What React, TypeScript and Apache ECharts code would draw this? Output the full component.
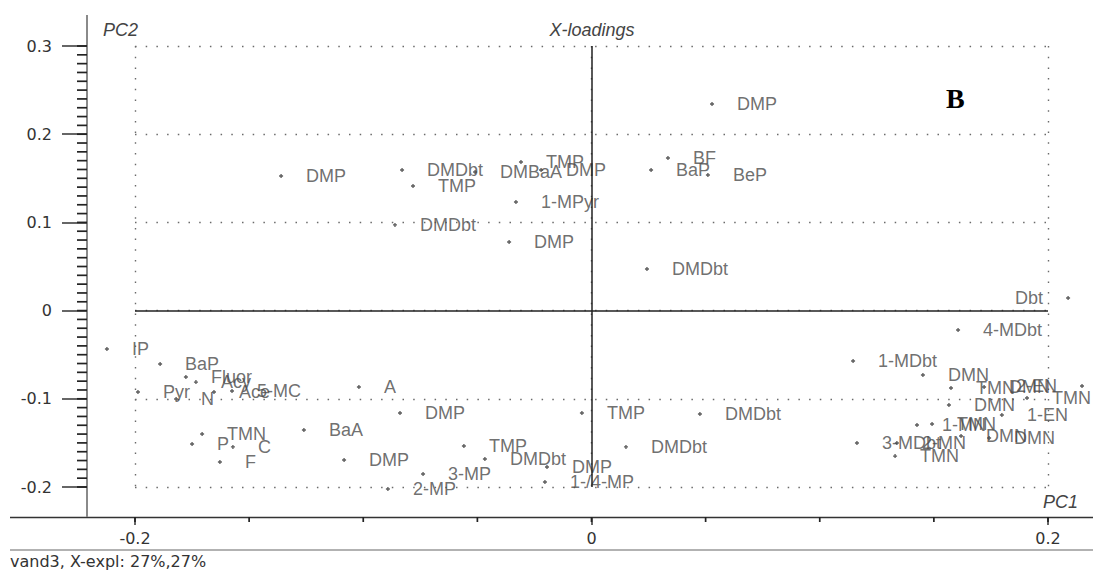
import React, { useEffect, useRef } from 'react';
import * as echarts from 'echarts';

// X-loadings: variable names, PC1 and PC2 values
const varNames = [
  // upper group
  'DMP', 'BF', 'BaP', 'BeP', 'TMP', 'DMBaA', 'DMP', 'DMDbt', 'DMP', 'TMP',
  '1-MPyr', 'DMDbt', 'DMP', 'DMDbt',
  // left group
  'IP', 'BaP', 'Fluor', 'Acy', 'Ace', 'Pyr', 'N', '5-MC', 'A', 'DMP',
  'BaA', 'TMN', 'P', 'C', 'F', 'DMP', '2-MP', '3-MP', 'TMP', 'DMDbt',
  'DMP', '1-/4-MP', 'TMP', 'DMDbt', 'DMDbt',
  // right group
  'Dbt', '4-MDbt', '1-MDbt', 'DMN', 'TMN', 'DMN', '2-EN', 'TMN', 'DMN', '1-EN',
  '1-MN', 'TMN', 'DMN', 'DMN', '3-MDbt', '2-MN', 'TMN',
];

const pc1 = [
  0.0528, 0.0335, 0.0261, 0.0510, -0.0309, -0.0510, -0.0221, -0.0830, -0.1360, -0.0782,
  -0.0331, -0.0861, -0.0361, 0.0243,
  -0.2123, -0.1890, -0.1777, -0.1733, -0.1654, -0.1987, -0.1820, -0.1575, -0.1019, -0.0839,
  -0.1260, -0.1706, -0.1750, -0.1571, -0.1628, -0.1084, -0.0892, -0.0738, -0.0559, -0.0467,
  -0.0195, -0.0204, -0.0042, 0.0475, 0.0151,
  0.2088, 0.1606, 0.1146, 0.1452, 0.1575, 0.1720, 0.2149, 0.1908, 0.1566, 0.1798,
  0.1426, 0.1492, 0.1619, 0.1742, 0.1163, 0.1338, 0.1330,
];

const pc2 = [
  0.2342, 0.1730, 0.1594, 0.1537, 0.1685, 0.1571, 0.1594, 0.1594, 0.1526, 0.1413,
  0.1231, 0.0971, 0.0778, 0.0472,
  -0.0435, -0.0605, -0.0753, -0.0810, -0.0923, -0.0923, -0.1002, -0.0912, -0.0866, -0.1161,
  -0.1354, -0.1399, -0.1512, -0.1546, -0.1717, -0.1694, -0.2023, -0.1853, -0.1535, -0.1683,
  -0.1773, -0.1943, -0.1161, -0.1172, -0.1546,
  0.0143, -0.0220, -0.0571, -0.0730, -0.0878, -0.0866, -0.0855, -0.0991, -0.1070, -0.1184,
  -0.1297, -0.1286, -0.1422, -0.1444, -0.1501, -0.1501, -0.1649,
];

const xRange = [-0.2, 0.2];
const xStep = 0.2;
const xMinorStep = 0.05;
const yRange = [-0.2, 0.3];
const yStep = 0.1;
const yMinorStep = 0.01;

const titleText = 'X-loadings';
const xName = 'PC1';
const yName = 'PC2';
const panelTag = 'B';
const footerText = 'vand3, X-expl: 27%,27%';

const LABEL_FONT = '"Liberation Sans", Arial, sans-serif';
const TICK_FONT = '"DejaVu Sans", sans-serif';

const X_AXIS_OFFSET = 30;
const Y_AXIS_OFFSET = 48;

function tickValues(range: number[], step: number): number[] {
  const out: number[] = [];
  const n = Math.round((range[1] - range[0]) / step);
  for (let i = 0; i <= n; i++) out.push(Math.round((range[0] + i * step) * 1000) / 1000);
  return out;
}

export default function App() {
  const ref = useRef<HTMLDivElement>(null);

  useEffect(() => {
    if (!ref.current) return;
    const chart = echarts.init(ref.current, undefined, { renderer: 'svg' });

    const data = varNames.map((n, i) => {
      const item: any = { name: n, value: [pc1[i], pc2[i]] };
      if (pc1[i] > xRange[1]) {
        item.label = { position: 'left' };
      }
      return item;
    });

    const dotted = { type: [1.5, 9.2] as any, color: '#6a6a6a', width: 1.4 };
    const fmt = (v: number) => String(Math.round(v * 10) / 10);

    const baseGraphic: any[] = [
      { type: 'line', shape: { x1: 10, y1: 517.5, x2: 1093, y2: 517.5 }, style: { stroke: '#333', lineWidth: 1.5 }, silent: true },
      { type: 'line', shape: { x1: 87, y1: 15, x2: 87, y2: 517 }, style: { stroke: '#8a8a8a', lineWidth: 2 }, silent: true },
      { type: 'line', shape: { x1: 10, y1: 550, x2: 1093, y2: 550 }, style: { stroke: '#999', lineWidth: 1.5 }, silent: true },
      {
        type: 'text', x: 103, y: 30,
        style: { text: yName, font: 'italic 18px "Liberation Sans", Arial, sans-serif', fill: '#444', textAlign: 'left', textVerticalAlign: 'middle' },
      },
      {
        type: 'text', x: 592, y: 30,
        style: { text: titleText, font: 'italic 18px "Liberation Sans", Arial, sans-serif', fill: '#444', textAlign: 'center', textVerticalAlign: 'middle' },
      },
      {
        type: 'text', x: 1043, y: 502,
        style: { text: xName, font: 'italic 18px "Liberation Sans", Arial, sans-serif', fill: '#444', textAlign: 'left', textVerticalAlign: 'middle' },
      },
      {
        type: 'text', x: 946, y: 98,
        style: { text: panelTag, font: 'bold 28px "Liberation Serif", "DejaVu Serif", serif', fill: '#000', textAlign: 'left', textVerticalAlign: 'middle' },
      },
      {
        type: 'text', x: 10, y: 561,
        style: { text: footerText, font: '16px "DejaVu Sans", sans-serif', fill: '#333', textAlign: 'left', textVerticalAlign: 'middle' },
      },
    ];

    chart.setOption({
      animation: false,
      backgroundColor: '#ffffff',
      textStyle: { fontFamily: LABEL_FONT },
      grid: {
        left: 135,
        right: 1093 - 1048,
        top: 46,
        bottom: 571 - 487,
        containLabel: false,
        outerBoundsMode: 'none',
      } as any,
      xAxis: {
        type: 'value',
        min: xRange[0],
        max: xRange[1],
        interval: xStep,
        position: 'bottom',
        offset: X_AXIS_OFFSET,
        axisLine: { show: false, onZero: false },
        axisTick: { show: true, length: 8, lineStyle: { color: '#333', width: 1.5 } },
        axisLabel: { margin: 13, fontSize: 16, fontFamily: TICK_FONT, color: '#333', formatter: fmt },
        splitLine: { show: true, lineStyle: dotted },
      },
      yAxis: {
        type: 'value',
        min: yRange[0],
        max: yRange[1],
        interval: yStep,
        position: 'left',
        offset: Y_AXIS_OFFSET,
        axisLine: { show: false, onZero: false },
        axisTick: { show: true, length: 25, lineStyle: { color: '#333', width: 1.5 } },
        axisLabel: { margin: 35, fontSize: 16, fontFamily: TICK_FONT, color: '#333', formatter: fmt },
        splitLine: { show: true, lineStyle: dotted },
      },
      series: [
        {
          type: 'scatter',
          clip: false,
          symbol: 'path://M1,0 L2,0 L2,1 L3,1 L3,2 L2,2 L2,3 L1,3 L1,2 L0,2 L0,1 L1,1 Z',
          symbolSize: 4,
          itemStyle: { color: '#333' },
          label: {
            show: true,
            position: 'right',
            distance: 23,
            formatter: '{b}',
            color: '#4a4a4a',
            fontSize: 18,
            fontFamily: LABEL_FONT,
          },
          emphasis: { disabled: true },
          data,
          markLine: {
            silent: true,
            symbol: 'none',
            animation: false,
            label: { show: false },
            lineStyle: { color: '#222', width: 1.5, type: 'solid' },
            data: [{ xAxis: 0 }, { yAxis: 0 }],
          },
        },
      ],
      graphic: baseGraphic,
    });

    // minor ticks, positioned through the chart's own axis scales
    const minorTicks: any[] = [];
    tickValues(yRange, yMinorStep).forEach((v) => {
      const p = chart.convertToPixel({ gridIndex: 0 }, [xRange[0], v]) as number[];
      if (!p) return;
      const x0 = p[0] - Y_AXIS_OFFSET;
      minorTicks.push({
        type: 'line',
        silent: true,
        z: 10,
        shape: { x1: x0 - 10, y1: p[1], x2: x0, y2: p[1] },
        style: { stroke: '#222', lineWidth: 1.7 },
      });
    });
    tickValues(xRange, xMinorStep).forEach((v) => {
      const p = chart.convertToPixel({ gridIndex: 0 }, [v, yRange[0]]) as number[];
      if (!p) return;
      const y0 = p[1] + X_AXIS_OFFSET;
      minorTicks.push({
        type: 'line',
        silent: true,
        z: 10,
        shape: { x1: p[0], y1: y0, x2: p[0], y2: y0 + 5 },
        style: { stroke: '#222', lineWidth: 1.7 },
      });
    });
    chart.setOption({ graphic: [...baseGraphic, ...minorTicks] });

    return () => {
      chart.dispose();
    };
  }, []);

  return (
    <div
      ref={ref}
      style={{ position: 'fixed', left: 0, top: 0, width: 1093, height: 571, background: '#fff' }}
    />
  );
}
